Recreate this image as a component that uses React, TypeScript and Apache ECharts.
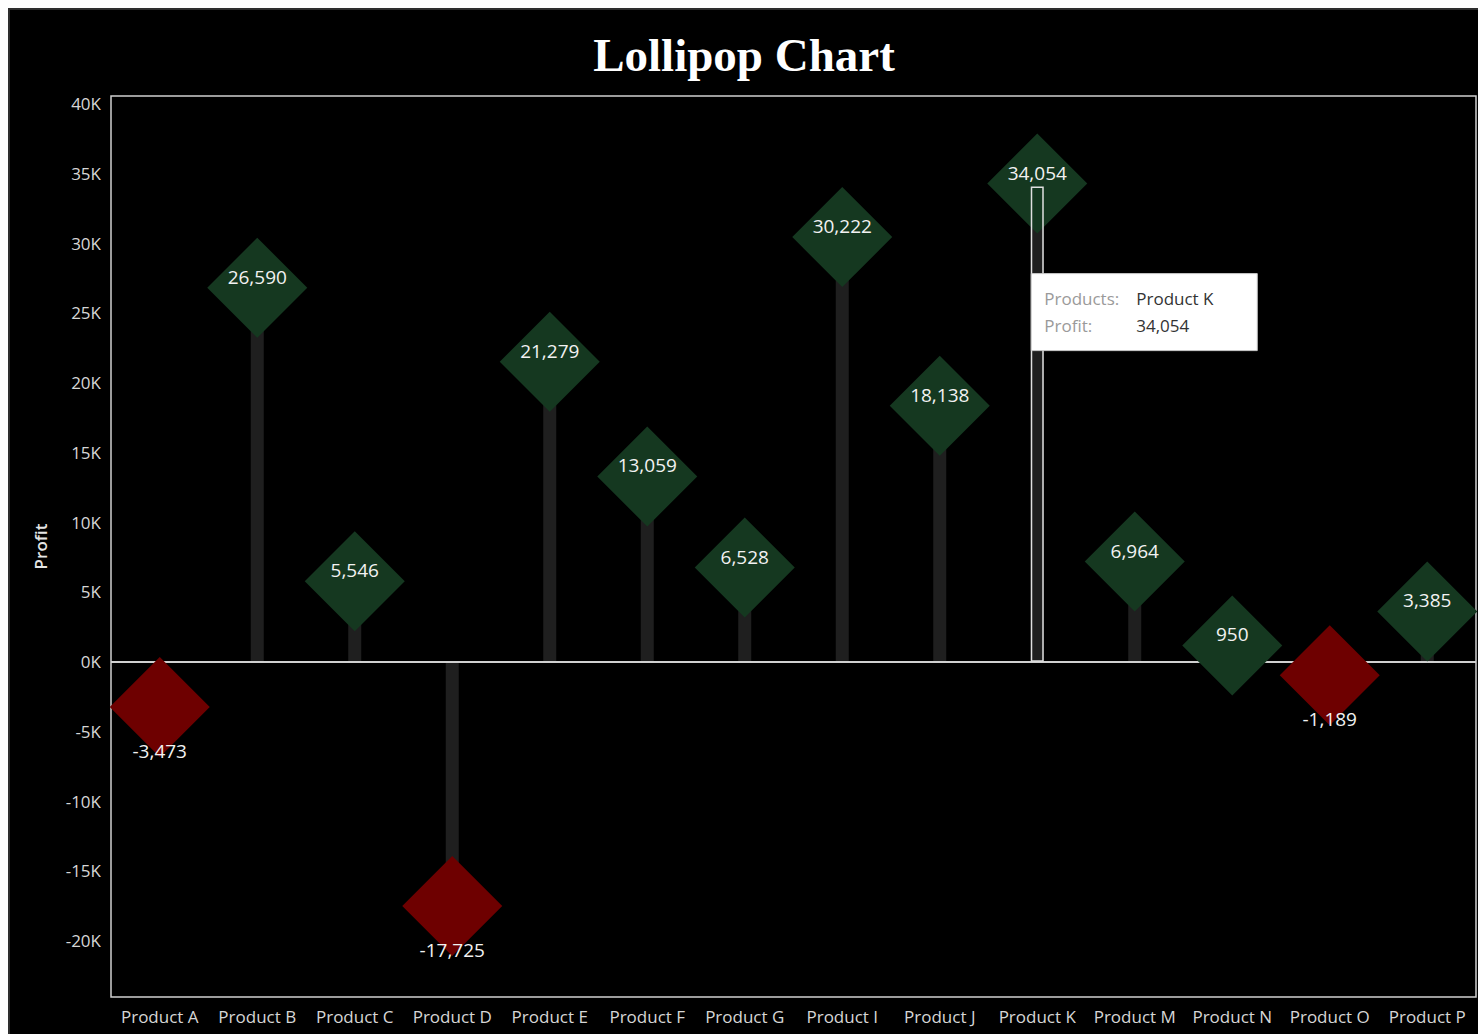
import React, { useEffect, useRef } from "react";
import * as echarts from "echarts";

const products = [
  "Product A", "Product B", "Product C", "Product D", "Product E", "Product F", "Product G",
  "Product I", "Product J", "Product K", "Product M", "Product N", "Product O", "Product P",
];
const profits = [-3473, 26590, 5546, -17725, 21279, 13059, 6528, 30222, 18138, 34054, 6964, 950, -1189, 3385];
const highlightedProduct = "Product K";
const yTickValues = [-20000, -15000, -10000, -5000, 0, 5000, 10000, 15000, 20000, 25000, 30000, 35000, 40000];

const fmt = (v: number) => v.toLocaleString("en-US");
const FONT = "'Open Sans', 'Noto Sans', sans-serif";

export default function App() {
  const ref = useRef<HTMLDivElement>(null);

  useEffect(() => {
    if (!ref.current) return;
    const chart = echarts.init(ref.current, undefined, { renderer: "svg" });

    const diamondData = profits.map((v) => ({
      value: v,
      itemStyle: { color: v >= 0 ? "#153820" : "#6e0000", opacity: 1 },
      label: {
        show: true,
        position: "inside",
        offset: v >= 0 ? [0, -11] : [0, 44],
        formatter: fmt(v),
        color: "#f2f2f2",
        fontSize: 19,
        fontFamily: FONT,
      },
    }));

    const hiIdx = products.indexOf(highlightedProduct);
    const highlightData = profits.map((v, i) => (i === hiIdx ? v : "-"));

    chart.setOption({
      animation: false,
      backgroundColor: "#000000",
      title: {
        text: "Lollipop Chart",
        left: "center",
        top: 16,
        textStyle: {
          color: "#ffffff",
          fontSize: 47,
          fontWeight: "bold",
          fontFamily: "'Liberation Serif', 'Times New Roman', serif",
        },
      },
      grid: {
        left: 101,
        right: 2,
        top: 86,
        bottom: 37,
        show: true,
        borderColor: "#d0d0d0",
        borderWidth: 1.5,
        backgroundColor: "transparent",
      },
      xAxis: {
        type: "category",
        data: products,
        axisLine: { show: false },
        axisTick: { show: false },
        axisLabel: { color: "#d6d6d6", fontSize: 17, fontFamily: FONT, margin: 11, interval: 0 },
        splitLine: { show: false },
      },
      yAxis: {
        type: "value",
        min: -24040,
        max: 40550,
        name: "Profit",
        nameLocation: "middle",
        nameGap: 62,
        nameTextStyle: { color: "#e6e6e6", fontSize: 17, fontFamily: FONT, fontWeight: 600 },
        axisLine: { show: false },
        axisTick: { show: false },
        splitLine: { show: false },
        axisLabel: {
          customValues: yTickValues,
          color: "#d6d6d6",
          fontSize: 17,
          fontFamily: FONT,
          margin: 10,
          padding: [6, 0, 0, 0],
          formatter: (v: number) => `${v / 1000}K`,
        },
      },
      series: [
        {
          type: "bar",
          name: "stem",
          data: profits,
          barWidth: 13,
          barGap: "-100%",
          z: 1,
          itemStyle: { color: "#1f1f1f" },
          silent: true,
          markLine: {
            silent: true,
            symbol: "none",
            label: { show: false },
            lineStyle: { color: "#d0d0d0", width: 2, type: "solid" },
            data: [{ yAxis: 0 }],
          },
        },
        {
          type: "scatter",
          name: "Profit",
          data: diamondData,
          symbol: "diamond",
          symbolSize: 100,
          symbolOffset: [0, -3],
          z: 10,
        },
        {
          type: "bar",
          name: "highlight",
          data: highlightData,
          barWidth: 13,
          barGap: "-100%",
          z: 12,
          itemStyle: { color: "rgba(0,0,0,0)", borderColor: "#e0e0e0", borderWidth: 1.5 },
          silent: true,
        },
      ],
    });

    const hiValue = profits[hiIdx];
    const [px, py] = chart.convertToPixel({ gridIndex: 0 }, [highlightedProduct, hiValue]) as number[];
    const boxX = px - 6;
    const boxY = py + 87;
    const textStyleBase = { fontSize: 17, fontFamily: FONT, verticalAlign: "middle" };
    chart.setOption({
      graphic: [
        {
          type: "rect",
          z: 100,
          shape: { x: boxX, y: boxY, width: 226, height: 77 },
          style: { fill: "#ffffff", stroke: "#c8c8c8", lineWidth: 1 },
        },
        {
          type: "text",
          z: 101,
          x: boxX + 13,
          y: boxY + 25,
          style: { ...textStyleBase, text: "Products:", fill: "#9a9a9a" },
        },
        {
          type: "text",
          z: 101,
          x: boxX + 105,
          y: boxY + 25,
          style: { ...textStyleBase, text: highlightedProduct, fill: "#333333" },
        },
        {
          type: "text",
          z: 101,
          x: boxX + 13,
          y: boxY + 52,
          style: { ...textStyleBase, text: "Profit:", fill: "#9a9a9a" },
        },
        {
          type: "text",
          z: 101,
          x: boxX + 105,
          y: boxY + 52,
          style: { ...textStyleBase, text: fmt(hiValue), fill: "#333333" },
        },
      ],
    });

    return () => chart.dispose();
  }, []);

  return (
    <div
      style={{
        position: "fixed",
        left: 8,
        top: 8,
        width: 1470,
        height: 1026,
        boxSizing: "border-box",
        borderLeft: "2px solid #2e2e2e",
        borderTop: "2px solid #2e2e2e",
        background: "#000",
      }}
    >
      <div ref={ref} style={{ width: 1468, height: 1024 }} />
    </div>
  );
}
